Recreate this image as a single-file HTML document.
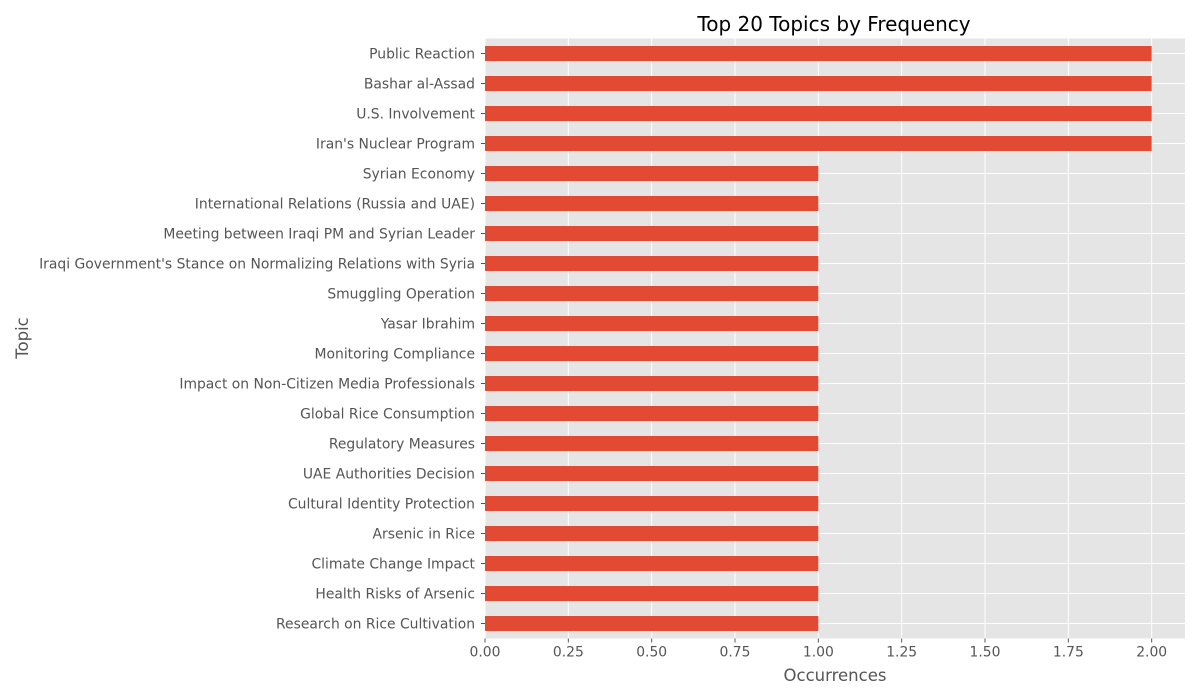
<!DOCTYPE html>
<html><head><meta charset="utf-8"><style>
body{margin:0;background:#fff;}
svg{display:block;font-family:"DejaVu Sans","Liberation Sans",sans-serif;}
</style></head><body>
<svg id="chart" width="1200" height="700">
<rect x="0" y="0" width="1200" height="700" fill="#fff"/>
<rect id="plotbg" x="485" y="38.5" width="700" height="600" fill="#e5e5e5"/>
<g id="grid"></g><g id="bars"></g><g id="ticks"></g>
<text x="834" y="31" font-size="20" text-anchor="middle" fill="#000">Top 20 Topics by Frequency</text>
<text x="835" y="681" font-size="16.5" text-anchor="middle" fill="#555">Occurrences</text>
<text x="28" y="338" font-size="16.5" text-anchor="middle" fill="#555" transform="rotate(-90 28 338)">Topic</text>
</svg>
<script>
const categories=["Public Reaction","Bashar al-Assad","U.S. Involvement","Iran's Nuclear Program","Syrian Economy","International Relations (Russia and UAE)","Meeting between Iraqi PM and Syrian Leader","Iraqi Government's Stance on Normalizing Relations with Syria","Smuggling Operation","Yasar Ibrahim","Monitoring Compliance","Impact on Non-Citizen Media Professionals","Global Rice Consumption","Regulatory Measures","UAE Authorities Decision","Cultural Identity Protection","Arsenic in Rice","Climate Change Impact","Health Risks of Arsenic","Research on Rice Cultivation"];
const values=[2,2,2,2,1,1,1,1,1,1,1,1,1,1,1,1,1,1,1,1];
const xTicks=[0,0.25,0.5,0.75,1,1.25,1.5,1.75,2];
const xTickLabels=["0.00","0.25","0.50","0.75","1.00","1.25","1.50","1.75","2.00"];
const NS="http://www.w3.org/2000/svg";
const L=485,W=700,T=38.5,H=600,xmax=2.1;
const x=v=>L+v/xmax*W;
const band=H/categories.length;
const y=i=>T+band*(i+0.5);
function mk(tag,attrs,parent){const e=document.createElementNS(NS,tag);for(const k in attrs)e.setAttribute(k,attrs[k]);document.getElementById(parent).appendChild(e);return e;}
xTicks.forEach((t,i)=>{
 const g=mk("line",{x1:x(t),x2:x(t),y1:T,y2:T+H,stroke:"#fff","stroke-width":1},"grid");
 
 
 const tk=mk("line",{x1:x(t),x2:x(t),y1:T+H,y2:T+H+4,stroke:"#555"},"ticks");
 
 
 const tl=mk("text",{x:x(t),y:T+H+18,"font-size":13.9,"text-anchor":"middle",fill:"#555"},"ticks");
 tl.textContent=xTickLabels[i];
 
 
});
categories.forEach((c,i)=>{
 const g=mk("line",{x1:L,x2:L+W,y1:y(i),y2:y(i),stroke:"#fff","stroke-width":1},"grid");
 
 
 const b=mk("rect",{x:x(0),y:y(i)-band*0.25,width:x(values[i])-x(0),height:band*0.5,fill:"#e24a33"},"bars");
 
 
 const tk=mk("line",{x1:L-4,x2:L,y1:y(i),y2:y(i),stroke:"#555"},"ticks");
 
 
 const tl=mk("text",{x:L-10,y:y(i)+5,"font-size":13.9,"text-anchor":"end",fill:"#555"},"ticks");
 tl.textContent=c;
 
 
});
</script>
</body></html>
